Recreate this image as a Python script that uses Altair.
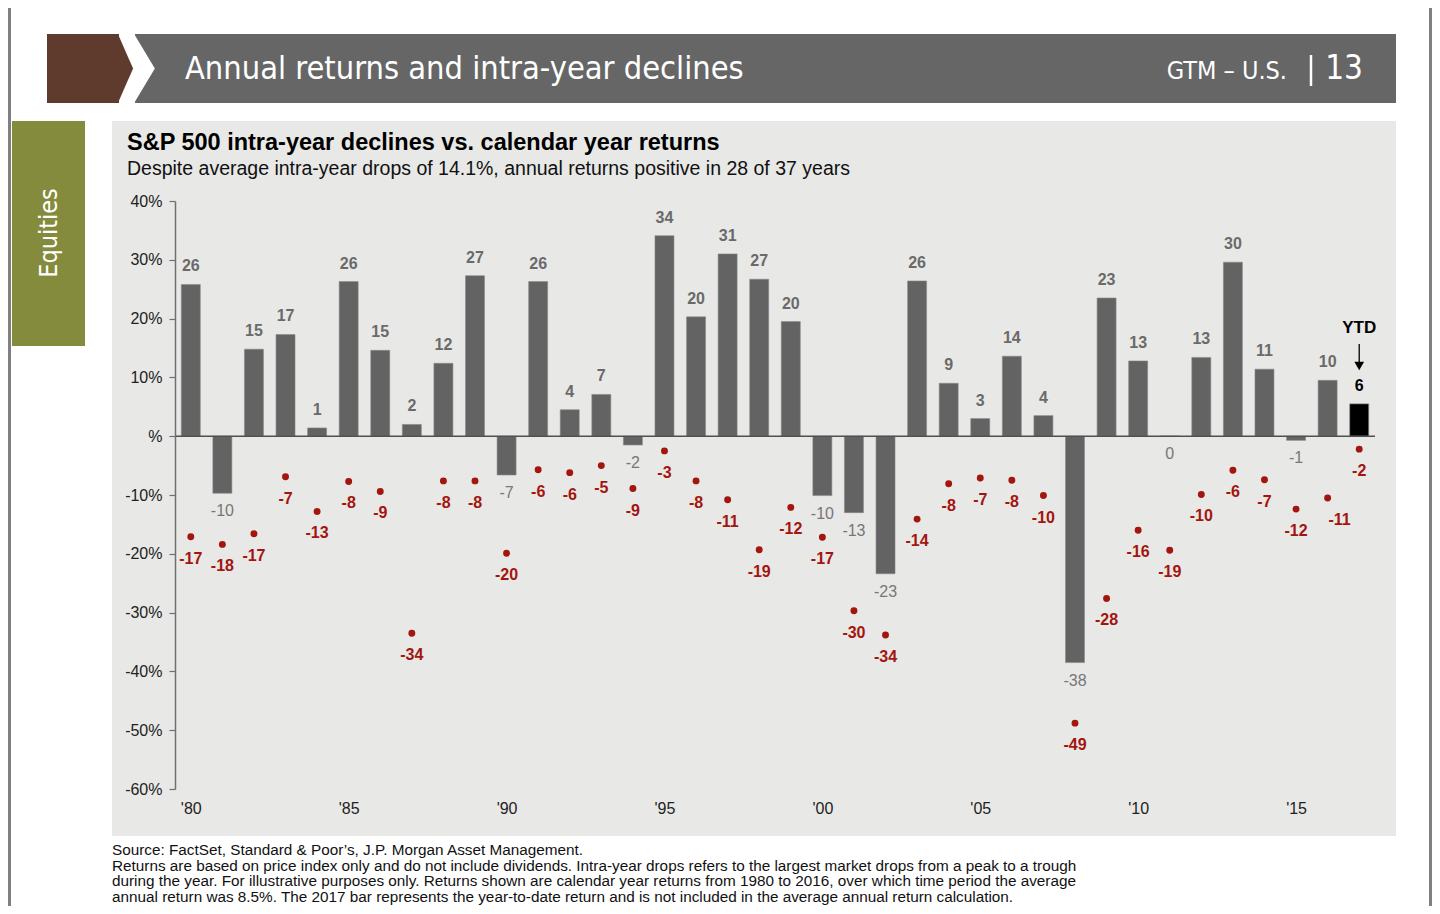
import altair as alt
import pandas as pd

# ---------------- data ----------------
years = list(range(1980, 2018))
returns_pct = [25.8, -9.7, 14.8, 17.3, 1.4, 26.3, 14.6, 2.0, 12.4, 27.3,
               -6.6, 26.3, 4.5, 7.1, -1.5, 34.1, 20.3, 31.0, 26.7, 19.5,
               -10.1, -13.0, -23.4, 26.4, 9.0, 3.0, 13.6, 3.5, -38.5, 23.5,
               12.8, 0.0, 13.4, 29.6, 11.4, -0.7, 9.5, 5.5]
returns_label = ["26", "-10", "15", "17", "1", "26", "15", "2", "12", "27",
                 "-7", "26", "4", "7", "-2", "34", "20", "31", "27", "20",
                 "-10", "-13", "-23", "26", "9", "3", "14", "4", "-38", "23",
                 "13", "0", "13", "30", "11", "-1", "10", "6"]
drops_pct = [-17.1, -18.4, -16.6, -6.9, -12.8, -7.7, -9.4, -33.5, -7.6, -7.6,
             -19.9, -5.7, -6.2, -5.0, -8.9, -2.5, -7.6, -10.8, -19.3, -12.1,
             -17.2, -29.7, -33.8, -14.1, -8.1, -7.1, -7.5, -10.1, -48.8, -27.6,
             -16.0, -19.4, -9.9, -5.8, -7.4, -12.4, -10.5, -2.2]
drops_label = ["-17", "-18", "-17", "-7", "-13", "-8", "-9", "-34", "-8", "-8",
               "-20", "-6", "-6", "-5", "-9", "-3", "-8", "-11", "-19", "-12",
               "-17", "-30", "-34", "-14", "-8", "-7", "-8", "-10", "-49", "-28",
               "-16", "-19", "-10", "-6", "-7", "-12", "-11", "-2"]
x_tick_years = [1980, 1985, 1990, 1995, 2000, 2005, 2010, 2015]
y_ticks = [-60, -50, -40, -30, -20, -10, 0, 10, 20, 30, 40]

header_title = "Annual returns and intra-year declines"
chart_title = "S&P 500 intra-year declines vs. calendar year returns"
chart_subtitle = "Despite average intra-year drops of 14.1%, annual returns positive in 28 of 37 years"
footnotes = [
    "Source: FactSet, Standard & Poor\u2019s, J.P. Morgan Asset Management.",
    "Returns are based on price index only and do not include dividends. Intra-year drops refers to the largest market drops from a peak to a trough",
    "during the year. For illustrative purposes only. Returns shown are calendar year returns from 1980 to 2016, over which time period the average",
    "annual return was 8.5%. The 2017 bar represents the year-to-date return and is not included in the average annual return calculation.",
]

df = pd.DataFrame({
    "year": years,
    "ret": returns_pct,
    "ret_lbl": returns_label,
    "drop": drops_pct,
    "drop_lbl": drops_label,
})
one = pd.DataFrame({"k": [0]})

# ---------------- layout helpers (page px -> plot px) ----------------
OX, OY = 175, 201
W, H = 1200, 588
ARIAL = "Liberation Sans, Arial, sans-serif"
COND = "Liberation Sans Narrow, DejaVu Sans Condensed, Roboto, sans-serif"


def rect(x1, x2, y1, y2, color):
    return alt.Chart(one).mark_rect(color=color).encode(
        x=alt.value(x1 - OX), x2=alt.value(x2 - OX),
        y=alt.value(y1 - OY), y2=alt.value(y2 - OY))


def label(txt, x, y, size, color="black", weight="normal", align="left",
          font=ARIAL, angle=0, baseline="middle"):
    return alt.Chart(one).mark_text(
        text=txt, fontSize=size, color=color, fontWeight=weight, align=align,
        font=font, angle=angle, baseline=baseline).encode(
        x=alt.value(x - OX), y=alt.value(y - OY))


def shape(path, cx, cy, size, color):
    return alt.Chart(one).mark_point(
        shape=path, size=size, filled=True, opacity=1, color=color,
        strokeWidth=0).encode(x=alt.value(cx - OX), y=alt.value(cy - OY))


deco = [
    rect(8, 11, 8, 914, "#808080"),
    rect(1429, 1440, 8, 914, "#808080"),
    # header
    rect(47, 119, 34, 103, "#5f3b2d"),
    shape("M-0.22,-1L0.22,0L-0.22,1Z", 125.5, 68.5, 69 * 69, "#5f3b2d"),
    rect(135, 1396, 34, 103, "#666666"),
    shape("M-0.3,-1L0.3,0L-0.3,1Z", 144.5, 68.5, 69 * 69, "white"),
    label(header_title, 185, 69, 32.3, color="white", font=COND),
    label("GTM \u2013 U.S.", 1287, 71, 25, color="white", font=COND, align="right"),
    alt.Chart(one).mark_rule(color="white", strokeWidth=2.5).encode(
        x=alt.value(1311 - OX), y=alt.value(55 - OY), y2=alt.value(86 - OY)),
    label("13", 1363, 69, 33, color="white", font=COND, align="right"),
    # side tab
    rect(12, 85, 121, 346, "#858b3c"),
    label("Equities", 49, 233, 25, color="white", font=COND, align="center", angle=270),
    # panel
    rect(112, 1396, 121, 836, "#e8e8e6"),
    label(chart_title, 127, 143, 23.5, weight="bold"),
    label(chart_subtitle, 127, 168.5, 19.5, color="#111111"),
]
for i, line in enumerate(footnotes):
    deco.append(label(line, 112, 850 + i * 15.7, 15.3, color="#111111"))

# ---------------- data layers ----------------
xscale = alt.Scale(domain=[1979.5, 2017.5], nice=False, zero=False, padding=0)
xaxis = alt.Axis(values=x_tick_years,
                 labelExpr="\"'\" + substring(toString(datum.value), 2)",
                 domain=False, ticks=False, tickSize=0, grid=False,
                 labelPadding=11, labelFontSize=16, labelColor="#222222",
                 labelFont=ARIAL, labelFlush=False, title=None, zindex=1)
yscale = alt.Scale(domain=[-60, 40], nice=False, zero=False, padding=0)
yaxis = alt.Axis(values=y_ticks,
                 labelExpr="datum.value == 0 ? '%' : datum.value + '%'",
                 domainColor="#707070", domainWidth=1.5, tickColor="#707070",
                 tickWidth=1.2, tickSize=6, labelPadding=7, labelFontSize=16,
                 labelColor="#222222", labelFont=ARIAL, grid=False, title=None,
                 zindex=1)

X = alt.X("year:Q", scale=xscale, axis=xaxis)


def Y(field):
    return alt.Y(field, scale=yscale, axis=yaxis)


base = alt.Chart(df)
is_ytd = "datum.year == 2017"

bars = base.mark_bar(size=19, stroke="#8a8a8a", strokeWidth=0.6).encode(
    x=X, y=Y("ret:Q"),
    color=alt.condition(is_ytd, alt.value("black"), alt.value("#636363")),
)

zero_rule = alt.Chart(one).mark_rule(color="#505050", strokeWidth=1.5).encode(
    x=alt.value(0), x2=alt.value(W), y=alt.value(H * 0.4))

dots = base.mark_circle(size=48, color="#a3150f", opacity=1).encode(
    x=X, y=Y("drop:Q"))

dot_lbl = base.transform_filter("datum.year != 2016").mark_text(
    dy=22, fontSize=16, fontWeight="bold", color="#a3150f", font=ARIAL).encode(
    x=X, y=Y("drop:Q"), text="drop_lbl:N")
dot_lbl16 = base.transform_filter("datum.year == 2016").mark_text(
    dy=22, dx=12, fontSize=16, fontWeight="bold", color="#a3150f", font=ARIAL).encode(
    x=X, y=Y("drop:Q"), text="drop_lbl:N")

pos_lbl = base.transform_filter("datum.ret > 0").mark_text(
    dy=-18, fontSize=16, fontWeight="bold", font=ARIAL).encode(
    x=X, y=Y("ret:Q"), text="ret_lbl:N",
    color=alt.condition(is_ytd, alt.value("black"), alt.value("#6a6a6a")))
neg_lbl = base.transform_filter("datum.ret <= 0").mark_text(
    dy=18, fontSize=16, color="#777777", font=ARIAL).encode(
    x=X, y=Y("ret:Q"), text="ret_lbl:N")

ytd_text = alt.Chart(one).mark_text(text="YTD", fontSize=17, fontWeight="bold",
                                     color="black", font=ARIAL).encode(
    x=alt.datum(2017, scale=xscale), y=alt.value(328 - OY))
ytd_stem = alt.Chart(one).mark_rule(color="black", strokeWidth=1.3).encode(
    x=alt.datum(2017), y=alt.value(344 - OY), y2=alt.value(362 - OY))
ytd_head = alt.Chart(one).mark_point(shape="triangle-down", filled=True, size=95,
                                     color="black", opacity=1).encode(
    x=alt.datum(2017), y=alt.value(366 - OY))

chart = alt.layer(
    *deco, bars, zero_rule, dots, dot_lbl, dot_lbl16, pos_lbl, neg_lbl,
    ytd_text, ytd_stem, ytd_head
).properties(
    width=W, height=H,
    padding={"left": 167, "top": 193, "right": 57, "bottom": 117},
    autosize=alt.AutoSizeParams(type="none"),
    background="white",
).configure_view(stroke=None)

chart.save("out.html", embed_options={"renderer": "svg", "actions": False})
